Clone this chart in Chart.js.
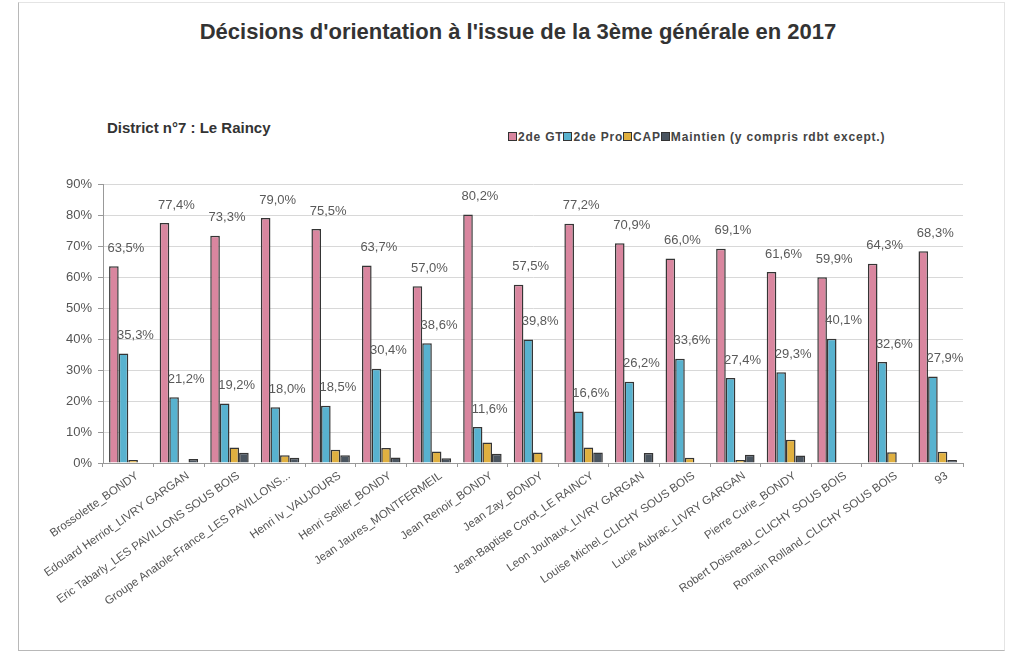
<!DOCTYPE html>
<html lang="fr">
<head>
<meta charset="utf-8">
<title>Décisions d'orientation 2017</title>
<script src="https://cdn.jsdelivr.net/npm/chart.js@4/dist/chart.umd.min.js"></script>
<style>
  html, body { margin: 0; padding: 0; background: #fff; }
  body { width: 1019px; height: 655px; position: relative; overflow: hidden; font-family: "Liberation Sans", Arial, sans-serif; }
  .frame { position: absolute; left: 18px; top: 2px; width: 985px; height: 647px; border: 1px solid #b8b8b8; border-top-color: #e4e4e4; border-right-color: #e4e4e4; }
  .title { position: absolute; left: 0; width: 1036px; top: 19px; text-align: center; font-weight: bold; font-size: 22px; color: #333; }
  .district { position: absolute; left: 107px; top: 119px; font-weight: bold; font-size: 15px; color: #333; }
  .legend { position: absolute; left: 508px; top: 130px; font-weight: bold; font-size: 12px; letter-spacing: 0.8px; color: #444; white-space: nowrap; }
  .legend span.box { display: inline-block; width: 7px; height: 7px; border: 1px solid #333; margin-right: 1px; vertical-align: 0; }
  .wrap { position: absolute; left: 0; top: 0; width: 1019px; height: 655px; }
</style>
</head>
<body>
<div class="frame"></div>
<div class="title">Décisions d'orientation à l'issue de la 3ème générale en 2017</div>
<div class="district">District n°7 : Le Raincy</div>
<div class="legend" id="legend"></div>
<div class="wrap"><canvas id="chart" width="1019" height="655"></canvas></div>
<script>
const colleges = [
    'Brossolette_BONDY',
    'Edouard Herriot_LIVRY GARGAN',
    'Eric Tabarly_LES PAVILLONS SOUS BOIS',
    'Groupe Anatole-France_LES PAVILLONS...',
    'Henri Iv_VAUJOURS',
    'Henri Sellier_BONDY',
    'Jean Jaures_MONTFERMEIL',
    'Jean Renoir_BONDY',
    'Jean Zay_BONDY',
    'Jean-Baptiste Corot_LE RAINCY',
    'Leon Jouhaux_LIVRY GARGAN',
    'Louise Michel_CLICHY SOUS BOIS',
    'Lucie Aubrac_LIVRY GARGAN',
    'Pierre Curie_BONDY',
    'Robert Doisneau_CLICHY SOUS BOIS',
    'Romain Rolland_CLICHY SOUS BOIS',
    '93',
];
const seriesNames = ['2de GT', '2de Pro', 'CAP', 'Maintien (y compris rdbt except.)'];
const secondeGT = [63.5, 77.4, 73.3, 79.0, 75.5, 63.7, 57.0, 80.2, 57.5, 77.2, 70.9, 66.0, 69.1, 61.6, 59.9, 64.3, 68.3];
const secondePro = [35.3, 21.2, 19.2, 18.0, 18.5, 30.4, 38.6, 11.6, 39.8, 16.6, 26.2, 33.6, 27.4, 29.3, 40.1, 32.6, 27.9];
const cap = [1.0, 0, 5.0, 2.5, 4.3, 4.8, 3.7, 6.6, 3.4, 5.0, 0, 1.7, 1.0, 7.5, 0, 3.5, 3.6];
const maintien = [0, 1.3, 3.3, 1.7, 2.5, 1.8, 1.5, 3.0, 0, 3.4, 3.2, 0, 2.7, 2.4, 0, 0, 1.0];
const yTicks = [0, 10, 20, 30, 40, 50, 60, 70, 80, 90];

const colors = ['#d9869f', '#58b2cf', '#e0b040', '#4a5560'];
const labelledSeries = [0, 1];

document.getElementById('legend').innerHTML = seriesNames
    .map((name, i) => `<span class="box" style="background:${colors[i]}"></span>${name}`)
    .join('');

const fmt = (v) => v.toFixed(1).replace('.', ',') + '%';

// Excel-style value labels, sitting a bit up and to the right of each bar top
const valueLabels = {
    id: 'valueLabels',
    afterDatasetsDraw(chart) {
        const ctx = chart.ctx;
        ctx.save();
        ctx.font = '13px "Liberation Sans", Arial, sans-serif';
        ctx.fillStyle = '#5a5a5a';
        ctx.textAlign = 'center';
        ctx.textBaseline = 'middle';
        labelledSeries.forEach((di) => {
            const meta = chart.getDatasetMeta(di);
            meta.data.forEach((bar, i) => {
                const v = chart.data.datasets[di].data[i];
                ctx.fillText(fmt(v), bar.x + 12, bar.y - 18);
            });
        });
        ctx.restore();
    },
};

new Chart(document.getElementById('chart'), {
    type: 'bar',
    data: {
        labels: colleges,
        datasets: [secondeGT, secondePro, cap, maintien].map((data, i) => ({
            label: seriesNames[i],
            data,
            backgroundColor: colors[i],
            borderColor: '#353535',
            borderWidth: 1.5,
            categoryPercentage: 0.76,
            barPercentage: 1.0,
        })),
    },
    options: {
        responsive: false,
        animation: false,
        devicePixelRatio: 1,
        layout: { padding: { left: 20, right: 56, top: 184, bottom: 12 } },
        scales: {
            x: {
                afterFit: (s) => { s.height = 180; },
                grid: { drawOnChartArea: false, drawTicks: true, tickLength: 4, color: '#999', offset: true },
                border: { color: '#999' },
                ticks: {
                    autoSkip: false,
                    minRotation: 35,
                    maxRotation: 35,
                    padding: 2,
                    labelOffset: 9,
                    color: '#555',
                    font: { family: '"Liberation Sans", Arial, sans-serif', size: 11.5 },
                },
            },
            y: {
                min: 0,
                max: 90,
                afterFit: (s) => { s.width = 83; },
                afterBuildTicks: (s) => { s.ticks = yTicks.map((value) => ({ value })); },
                grid: { color: '#d8d8d8', tickLength: 5, tickColor: '#999' },
                border: { color: '#999' },
                ticks: {
                    padding: 6,
                    color: '#555',
                    font: { family: '"Liberation Sans", Arial, sans-serif', size: 13 },
                    callback: (v) => v + '%',
                },
            },
        },
        plugins: {
            legend: { display: false },
            tooltip: { enabled: false },
        },
    },
    plugins: [valueLabels],
});
</script>
</body>
</html>
